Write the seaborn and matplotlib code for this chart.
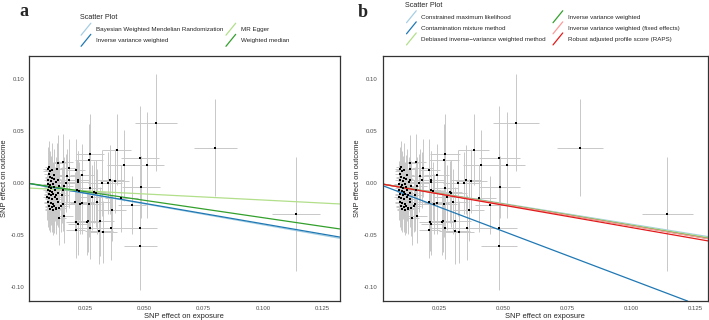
import numpy as np
import pandas as pd
import matplotlib
matplotlib.use("Agg")
import matplotlib.pyplot as plt
import seaborn as sns
from matplotlib.lines import Line2D
from matplotlib.legend_handler import HandlerBase

# SNP effects (exposure / outcome) and error bar half widths
bx = [0.0095, 0.0100, 0.0105, 0.0098, 0.0110, 0.0102, 0.0112, 0.0096, 0.0108, 0.0118,
      0.0093, 0.0103, 0.0115, 0.0099, 0.0107, 0.0120, 0.0094, 0.0104, 0.0113, 0.0125,
      0.0097, 0.0108, 0.0117, 0.0092, 0.0101, 0.0111, 0.0123, 0.0096, 0.0106, 0.0115,
      0.0100, 0.0110, 0.0120, 0.0104, 0.0114, 0.0127, 0.0122, 0.0130, 0.0128, 0.0135,
      0.0136, 0.0134, 0.0136, 0.0140, 0.0136, 0.0134, 0.0140, 0.0128, 0.0142, 0.0150,
      0.0156, 0.0153, 0.0157, 0.0162, 0.0159, 0.0162, 0.0169, 0.0183, 0.0176, 0.0185,
      0.0208, 0.0211, 0.0219, 0.0212, 0.0211, 0.0239, 0.0219, 0.0219, 0.0216, 0.0224,
      0.0239, 0.0231, 0.0271, 0.0272, 0.0260, 0.0264, 0.0268, 0.0278, 0.0290, 0.0297,
      0.0302, 0.0312, 0.0327, 0.0310, 0.0358, 0.0365, 0.0403, 0.0375, 0.0354, 0.0347,
      0.0323, 0.0268, 0.0272, 0.0384, 0.0449, 0.0413, 0.0513, 0.0484, 0.0486, 0.0484,
      0.0484, 0.0550, 0.0800, 0.1140]
by = [0.013, 0.015, 0.011, 0.009, 0.012, 0.006, 0.005, 0.003, 0.002, 0.004,
      -0.001, -0.002, -0.001, -0.004, -0.005, -0.004, -0.007, -0.008, -0.009, -0.007,
      -0.011, -0.012, -0.011, -0.014, -0.015, -0.016, -0.014, -0.018, -0.019, -0.020,
      -0.022, -0.023, -0.022, -0.025, -0.026, -0.024, 0.008, 0.001, -0.012, -0.018,
      0.019, 0.013, 0.003, -0.003, -0.010, -0.016, -0.024, -0.025, -0.034, -0.022,
      -0.020, -0.012, -0.007, -0.003, 0.020, -0.032, 0.000, 0.003, 0.007, 0.014,
      -0.018, -0.045, -0.040, -0.038, 0.012, 0.008, 0.003, 0.001, -0.007, -0.008,
      -0.019, -0.020, -0.005, -0.043, -0.038, -0.037, -0.020, -0.014, -0.009, -0.010,
      -0.018, -0.037, -0.047, -0.046, -0.043, -0.026, -0.015, 0.002, 0.003, 0.000,
      0.000, 0.022, 0.028, 0.032, -0.021, 0.017, 0.017, 0.024, -0.004, -0.043,
      -0.061, 0.058, 0.034, -0.030]
bx_err = [0.002, 0.002, 0.003, 0.002, 0.003, 0.002, 0.003, 0.002, 0.002, 0.003,
          0.002, 0.003, 0.002, 0.002, 0.003, 0.003, 0.002, 0.002, 0.003, 0.003,
          0.002, 0.003, 0.002, 0.002, 0.002, 0.003, 0.003, 0.002, 0.003, 0.002,
          0.002, 0.003, 0.003, 0.002, 0.003, 0.003, 0.003, 0.003, 0.003, 0.003,
          0.003, 0.003, 0.003, 0.003, 0.003, 0.003, 0.003, 0.003, 0.003, 0.003,
          0.003, 0.003, 0.004, 0.004, 0.004, 0.004, 0.004, 0.004, 0.004, 0.004,
          0.004, 0.004, 0.004, 0.004, 0.004, 0.005, 0.005, 0.005, 0.004, 0.004,
          0.005, 0.005, 0.005, 0.006, 0.005, 0.006, 0.005, 0.005, 0.005, 0.006,
          0.006, 0.006, 0.006, 0.006, 0.006, 0.006, 0.007, 0.006, 0.006, 0.006,
          0.006, 0.006, 0.006, 0.006, 0.006, 0.007, 0.007, 0.008, 0.008, 0.007,
          0.007, 0.009, 0.009, 0.010]
by_err = [0.022, 0.025, 0.020, 0.024, 0.026, 0.022, 0.025, 0.020, 0.024, 0.023,
          0.022, 0.025, 0.021, 0.024, 0.026, 0.022, 0.023, 0.024, 0.025, 0.022,
          0.024, 0.023, 0.026, 0.022, 0.024, 0.025, 0.023, 0.024, 0.022, 0.025,
          0.023, 0.024, 0.026, 0.022, 0.024, 0.023, 0.025, 0.024, 0.025, 0.024,
          0.027, 0.025, 0.026, 0.024, 0.026, 0.025, 0.027, 0.024, 0.026, 0.025,
          0.026, 0.027, 0.026, 0.028, 0.027, 0.026, 0.028, 0.027, 0.026, 0.028,
          0.028, 0.027, 0.029, 0.028, 0.030, 0.029, 0.028, 0.030, 0.029, 0.028,
          0.030, 0.029, 0.033, 0.030, 0.031, 0.030, 0.032, 0.031, 0.030, 0.032,
          0.031, 0.033, 0.030, 0.032, 0.031, 0.030, 0.032, 0.031, 0.033, 0.030,
          0.032, 0.035, 0.038, 0.034, 0.028, 0.034, 0.051, 0.050, 0.030, 0.032,
          0.042, 0.047, 0.047, 0.055]

# MR method estimates (slope, intercept) per panel
methods_a = ["Bayesian Weighted Mendelian Randomization", "Inverse variance weighted",
             "MR Egger", "Weighted median"]
slopes_a = [-0.403, -0.394, -0.117, -0.335]
intercepts_a = [0.0, 0.0, -0.0048, 0.0]
colors_a = ["#A6CEE3", "#1F78B4", "#B2DF8A", "#33A02C"]

methods_b = ["Constrained maximum likelihood", "Contamination mixture method",
             "Debiased inverse\u2212variance weighted method", "Inverse variance weighted",
             "Inverse variance weighted (fixed effects)", "Robust adjusted profile score (RAPS)"]
slopes_b = [-0.398, -0.933, -0.405, -0.412, -0.414, -0.430]
intercepts_b = [0.0, 0.0, 0.0, 0.0, 0.0, 0.0]
colors_b = ["#A6CEE3", "#1F78B4", "#B2DF8A", "#33A02C", "#FB9A99", "#E31A1C"]

x_ticks = [0.025, 0.050, 0.075, 0.100, 0.125]
x_labels = ["0.025", "0.050", "0.075", "0.100", "0.125"]
y_ticks = [0.10, 0.05, 0.00, -0.05, -0.10]
y_labels = ["0.10", "0.05", "0.00", "-0.05", "-0.10"]

df = pd.DataFrame({"bx": bx, "by": by, "bx_err": bx_err, "by_err": by_err})

sns.set_style("white")
plt.rcParams["font.family"] = ["Liberation Sans", "DejaVu Sans"]


class DiagHandler(HandlerBase):
    def create_artists(self, legend, orig_handle, xdescent, ydescent, width, height, fontsize, trans):
        line = Line2D([-xdescent + 1, -xdescent + width - 1],
                      [-ydescent - 2, -ydescent + height + 2],
                      color=orig_handle.get_color(), lw=orig_handle.get_linewidth())
        line.set_transform(trans)
        return [line]


fig = plt.figure(figsize=(7.09, 3.2), dpi=100)
ax_a = fig.add_axes([0.041, 0.059, 0.438, 0.766])
ax_b = fig.add_axes([0.5395, 0.059, 0.4595, 0.766])


def draw_panel(ax, methods, slopes, intercepts, colors, xlim):
    ax.errorbar(df["bx"], df["by"], xerr=df["bx_err"], yerr=df["by_err"], fmt="none",
                ecolor="#c8c8c8", elinewidth=0.7, capsize=0, zorder=1)
    sns.scatterplot(data=df, x="bx", y="by", ax=ax, color="black", s=4, marker="s",
                    linewidth=0, zorder=3)
    handles = []
    for m, s, b, c in zip(methods, slopes, intercepts, colors):
        ax.axline((0, b), slope=s, color=c, lw=0.9, zorder=2)
        handles.append(Line2D([], [], color=c, lw=0.9, label=m))
    ax.set_xlim(*xlim)
    ax.set_ylim(-0.1138, 0.1221)
    ax.set_xticks(x_ticks, x_labels)
    ax.set_yticks(y_ticks, y_labels)
    ax.tick_params(labelsize=4.3, colors="#4d4d4d", length=2, width=0.5, pad=1.5)
    ax.tick_params(axis="both", labelcolor="#4d4d4d", color="#333333")
    ax.set_xlabel("SNP effect on exposure", fontsize=5.4, labelpad=1.5)
    ax.set_ylabel("SNP effect on outcome", fontsize=5.4, labelpad=2)
    for sp in ax.spines.values():
        sp.set_color("#333333")
        sp.set_linewidth(0.9)
    return handles


h_a = draw_panel(ax_a, methods_a, slopes_a, intercepts_a, colors_a, (0.0015, 0.1323))
h_b = draw_panel(ax_b, methods_b, slopes_b, intercepts_b, colors_b, (0.0028, 0.1300))

leg_kw = dict(ncol=2, frameon=False, fontsize=4.5, title="Scatter Plot", title_fontsize=5.2,
              alignment="left", handler_map={Line2D: DiagHandler()}, handlelength=2.0,
              handleheight=1.2, handletextpad=0.6, labelspacing=0.75, borderpad=0,
              loc="upper left")
fig.legend(handles=h_a, bbox_to_anchor=(0.108, 0.965), columnspacing=0.2, **leg_kw)
fig.legend(handles=h_b, bbox_to_anchor=(0.567, 1.004), columnspacing=0.9, **leg_kw)

fig.text(0.033, 0.965, "a", fontsize=13, fontweight="bold", family="Liberation Serif",
         va="center", ha="center")
fig.text(0.511, 0.962, "b", fontsize=13, fontweight="bold", family="Liberation Serif",
         va="center", ha="center")

fig.savefig("out.png", dpi=100)
